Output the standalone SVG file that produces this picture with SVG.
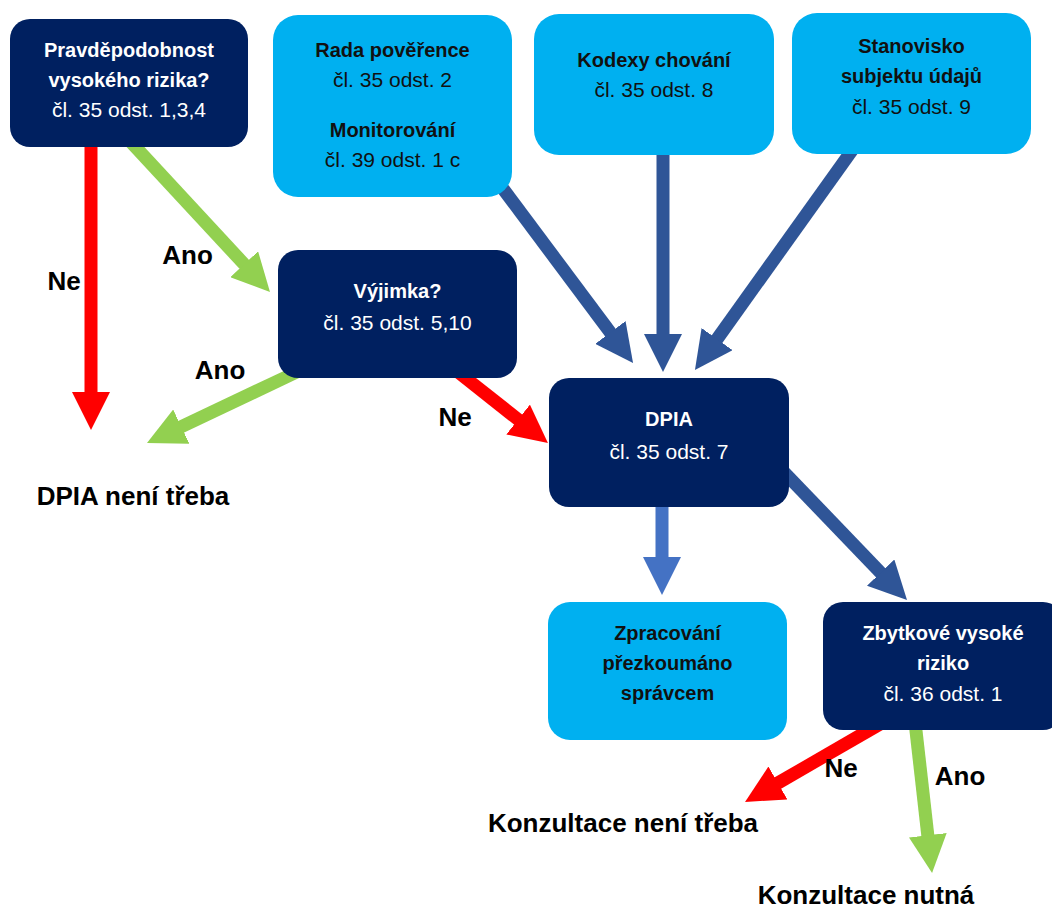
<svg xmlns="http://www.w3.org/2000/svg" width="1052" height="908" viewBox="0 0 1052 908">
  <style>
    .dark { fill: #002060; }
    .light { fill: #00B0F0; }
    .t { font-family: "Liberation Sans", Arial, sans-serif; text-anchor: middle; }
    .b { font-weight: bold; font-size: 20px; }
    .r { font-size: 21px; }
    .w { fill: #FFFFFF; }
    .k { fill: #111111; }
    .lbl { font-family: "Liberation Sans", Arial, sans-serif; font-weight: bold; font-size: 26px; fill: #000000; text-anchor: middle; }
    .s { fill: none; stroke-width: 13; }
    .red { stroke: #FF0000; }
    .green { stroke: #92D050; }
    .blue { stroke: #2F5597; }
    .lblue { stroke: #4472C4; }
  </style>
  <defs>
    <marker id="hRed" viewBox="0 0 38 38" refX="8" refY="19" markerWidth="38" markerHeight="38" markerUnits="userSpaceOnUse" orient="auto">
      <path d="M0,0 L38,19 L0,38 Z" fill="#FF0000"/>
    </marker>
    <marker id="hGreen" viewBox="0 0 38 38" refX="8" refY="19" markerWidth="38" markerHeight="38" markerUnits="userSpaceOnUse" orient="auto">
      <path d="M0,0 L38,19 L0,38 Z" fill="#92D050"/>
    </marker>
    <marker id="hBlue" viewBox="0 0 38 38" refX="8" refY="19" markerWidth="38" markerHeight="38" markerUnits="userSpaceOnUse" orient="auto">
      <path d="M0,0 L38,19 L0,38 Z" fill="#2F5597"/>
    </marker>
    <marker id="hLBlue" viewBox="0 0 38 38" refX="8" refY="19" markerWidth="38" markerHeight="38" markerUnits="userSpaceOnUse" orient="auto">
      <path d="M0,0 L38,19 L0,38 Z" fill="#4472C4"/>
    </marker>
  </defs>
  <rect width="1052" height="908" fill="#FFFFFF"/>

  <g id="connectors">
    <!-- Pravděpodobnost -> DPIA není třeba (Ne) -->
    <path class="s red" d="M91,140 L91,400" marker-end="url(#hRed)"/>
    <!-- Pravděpodobnost -> Výjimka (Ano) -->
    <path class="s green" d="M129,140 L249.6,270.1" marker-end="url(#hGreen)"/>
    <!-- Výjimka -> DPIA není třeba (Ano) -->
    <path class="s green" d="M301,370 L174.1,430.1" marker-end="url(#hGreen)"/>
    <!-- Výjimka -> DPIA (Ne) -->
    <path class="s red" d="M458,372 L524.4,424.5" marker-end="url(#hRed)"/>
    <!-- Rada -> DPIA -->
    <path class="s blue" d="M495,178 L615.1,338.9" marker-end="url(#hBlue)"/>
    <!-- Kodexy -> DPIA -->
    <path class="s blue" d="M663,145 L663,342" marker-end="url(#hBlue)"/>
    <!-- Stanovisko -> DPIA -->
    <path class="s blue" d="M858,142 L712.4,345.6" marker-end="url(#hBlue)"/>
    <!-- DPIA -> Zpracování -->
    <path class="s lblue" d="M662,500 L662,565" marker-end="url(#hLBlue)"/>
    <!-- DPIA -> Zbytkové -->
    <path class="s blue" d="M780,468 L886.2,578.4" marker-end="url(#hBlue)"/>
    <!-- Zbytkové -> Konzultace není třeba (Ne) -->
    <path class="s red" d="M880,724 L771,787" marker-end="url(#hRed)"/>
    <!-- Zbytkové -> Konzultace nutná (Ano) -->
    <path class="s green" d="M915,722 L928.7,843.2" marker-end="url(#hGreen)"/>
  </g>

  <g id="node-pravdepodobnost">
    <rect class="dark" x="10" y="19" width="238" height="128" rx="20"/>
    <text class="t b w" x="129" y="57">Pravděpodobnost</text>
    <text class="t b w" x="129" y="87">vysokého rizika?</text>
    <text class="t r w" x="129" y="117">čl. 35 odst. 1,3,4</text>
  </g>

  <g id="node-rada">
    <rect class="light" x="273" y="15" width="239" height="182" rx="25"/>
    <text class="t b k" x="392.5" y="57">Rada pověřence</text>
    <text class="t r k" x="392.5" y="87">čl. 35 odst. 2</text>
    <text class="t b k" x="392.5" y="137">Monitorování</text>
    <text class="t r k" x="392.5" y="167">čl. 39 odst. 1 c</text>
  </g>

  <g id="node-kodexy">
    <rect class="light" x="534" y="14" width="240" height="141" rx="25"/>
    <text class="t b k" x="654" y="67">Kodexy chování</text>
    <text class="t r k" x="654" y="97">čl. 35 odst. 8</text>
  </g>

  <g id="node-stanovisko">
    <rect class="light" x="792" y="13" width="239" height="141" rx="25"/>
    <text class="t b k" x="911.5" y="53">Stanovisko</text>
    <text class="t b k" x="911.5" y="83">subjektu údajů</text>
    <text class="t r k" x="911.5" y="114">čl. 35 odst. 9</text>
  </g>

  <g id="node-vyjimka">
    <rect class="dark" x="278" y="250" width="239" height="128" rx="20"/>
    <text class="t b w" x="397.5" y="298">Výjimka?</text>
    <text class="t r w" x="397.5" y="330">čl. 35 odst. 5,10</text>
  </g>

  <g id="node-dpia">
    <rect class="dark" x="549" y="378" width="240" height="129" rx="20"/>
    <text class="t b w" x="669" y="426">DPIA</text>
    <text class="t r w" x="669" y="459">čl. 35 odst. 7</text>
  </g>

  <g id="node-zpracovani">
    <rect class="light" x="548" y="602" width="239" height="138" rx="22"/>
    <text class="t b k" x="667.5" y="640">Zpracování</text>
    <text class="t b k" x="667.5" y="670">přezkoumáno</text>
    <text class="t b k" x="667.5" y="700">správcem</text>
  </g>

  <g id="node-zbytkove">
    <rect class="dark" x="823" y="602" width="240" height="128" rx="20"/>
    <text class="t b w" x="943" y="640">Zbytkové vysoké</text>
    <text class="t b w" x="943" y="670">riziko</text>
    <text class="t r w" x="943" y="701">čl. 36 odst. 1</text>
  </g>

  <g id="labels">
    <text class="lbl" x="64" y="290">Ne</text>
    <text class="lbl" x="187.5" y="264">Ano</text>
    <text class="lbl" x="220" y="379">Ano</text>
    <text class="lbl" x="455" y="426">Ne</text>
    <text class="lbl" x="841" y="777">Ne</text>
    <text class="lbl" x="960" y="785">Ano</text>
  </g>

  <g id="node-dpia-neni-treba">
    <text class="lbl" x="133" y="505">DPIA není třeba</text>
  </g>
  <g id="node-konzultace-neni-treba">
    <text class="lbl" x="623" y="832">Konzultace není třeba</text>
  </g>
  <g id="node-konzultace-nutna">
    <text class="lbl" x="866" y="904">Konzultace nutná</text>
  </g>
</svg>
